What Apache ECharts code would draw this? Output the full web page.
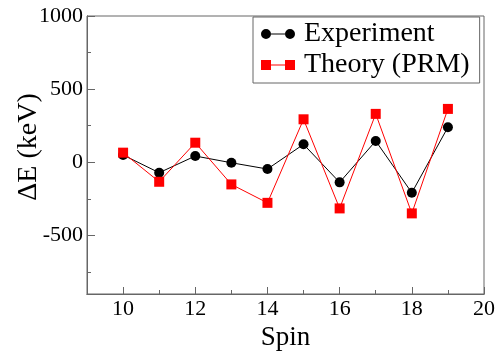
<!DOCTYPE html>
<html>
<head>
<meta charset="utf-8">
<script src="https://cdn.jsdelivr.net/npm/echarts@6/dist/echarts.min.js"></script>
<style>
  html, body { margin: 0; padding: 0; background: #fff; }
  #main { width: 497px; height: 356px; }
</style>
</head>
<body>
<div id="main"></div>
<script>
const spins = [10, 11, 12, 13, 14, 15, 16, 17, 18, 19]
const experiment = [50, -71, 43, -3, -46, 123, -137, 146, -208, 240]
const theory = [66, -133, 134, -151, -277, 294, -315, 331, -349, 365]
const xMajor = [10, 12, 14, 16, 18, 20]
const xMinor = [9, 11, 13, 15, 17, 19]
const yMajor = [-500, 0, 500, 1000]
const yMinor = [-750, -250, 250, 750]

const serif = "'Liberation Serif', 'Times New Roman', serif"
const frame = '#666'

const chart = echarts.init(document.getElementById('main'), null, { renderer: 'canvas' })

const pairs = (ys) => spins.map((s, i) => [s, ys[i]])

const baseAxis = (min, max) => ({
  type: 'value',
  min,
  max,
  splitLine: { show: false },
  axisLine: { onZero: false, lineStyle: { color: frame, width: 1 } }
})

const option = {
  animation: false,
  grid: {
    left: 87, top: 16, right: 13, bottom: 62,
    containLabel: false,
    outerBoundsMode: 'none',
    show: true, borderColor: frame, borderWidth: 1
  },
  // y axis title drawn as text (axis name rendered in a fallback font)
  graphic: [
    {
      type: 'text',
      x: 29,
      y: 147,
      rotation: Math.PI / 2,
      style: {
        text: 'ΔE (keV)',
        font: "28px 'Liberation Serif'",
        fill: '#000',
        align: 'center',
        verticalAlign: 'middle'
      }
    }
  ],
  legend: {
    orient: 'vertical',
    left: 253,
    top: 17,
    padding: [3, 10, 4, 8],
    itemGap: 3,
    itemWidth: 34,
    itemHeight: 10,
    borderColor: frame,
    borderWidth: 1,
    textStyle: { fontFamily: serif, fontSize: 28, color: '#000', lineHeight: 27, padding: [0, 0, 0, 4] },
    data: [
      { name: 'Experiment', icon: 'path://M0,5 A5,5 0 1,1 10,5 A5,5 0 1,1 0,5 Z M10,4.5 L24,4.5 L24,5.5 L10,5.5 Z M24,5 A5,5 0 1,1 34,5 A5,5 0 1,1 24,5 Z' },
      { name: 'Theory (PRM)', icon: 'path://M0,0 L10,0 L10,10 L0,10 Z M10,4.5 L24,4.5 L24,5.5 L10,5.5 Z M24,0 L34,0 L34,10 L24,10 Z' }
    ]
  },
  xAxis: [
    Object.assign(baseAxis(9, 20), {
      name: 'Spin',
      nameLocation: 'middle',
      nameGap: 29,
      nameTextStyle: { fontFamily: serif, fontSize: 27, color: '#000' },
      axisTick: { inside: true, length: 7, customValues: xMajor, lineStyle: { color: frame } },
      axisLabel: { customValues: xMajor, margin: 4, fontFamily: serif, fontSize: 22, color: '#000', formatter: (v) => String(v) }
    }),
    Object.assign(baseAxis(9, 20), {
      position: 'bottom',
      axisTick: { inside: true, length: 4, customValues: xMinor, lineStyle: { color: frame } },
      axisLabel: { show: false }
    })
  ],
  yAxis: [
    Object.assign(baseAxis(-900, 1000), {
      axisTick: { inside: true, length: 8, customValues: yMajor, lineStyle: { color: frame } },
      axisLabel: { customValues: yMajor, margin: 4, fontFamily: serif, fontSize: 22, color: '#000', formatter: (v) => String(v) }
    }),
    Object.assign(baseAxis(-900, 1000), {
      position: 'left',
      axisTick: { inside: true, length: 4, customValues: yMinor, lineStyle: { color: frame } },
      axisLabel: { show: false }
    })
  ],
  series: [
    {
      name: 'Experiment',
      type: 'line',
      data: pairs(experiment),
      symbol: 'circle',
      symbolSize: 10,
      itemStyle: { color: '#000' },
      lineStyle: { color: '#000', width: 1 }
    },
    {
      name: 'Theory (PRM)',
      type: 'line',
      data: pairs(theory),
      symbol: 'rect',
      symbolSize: 10,
      itemStyle: { color: '#ff0000' },
      lineStyle: { color: '#ff0000', width: 1 }
    }
  ]
}

chart.setOption(option)
</script>
</body>
</html>
